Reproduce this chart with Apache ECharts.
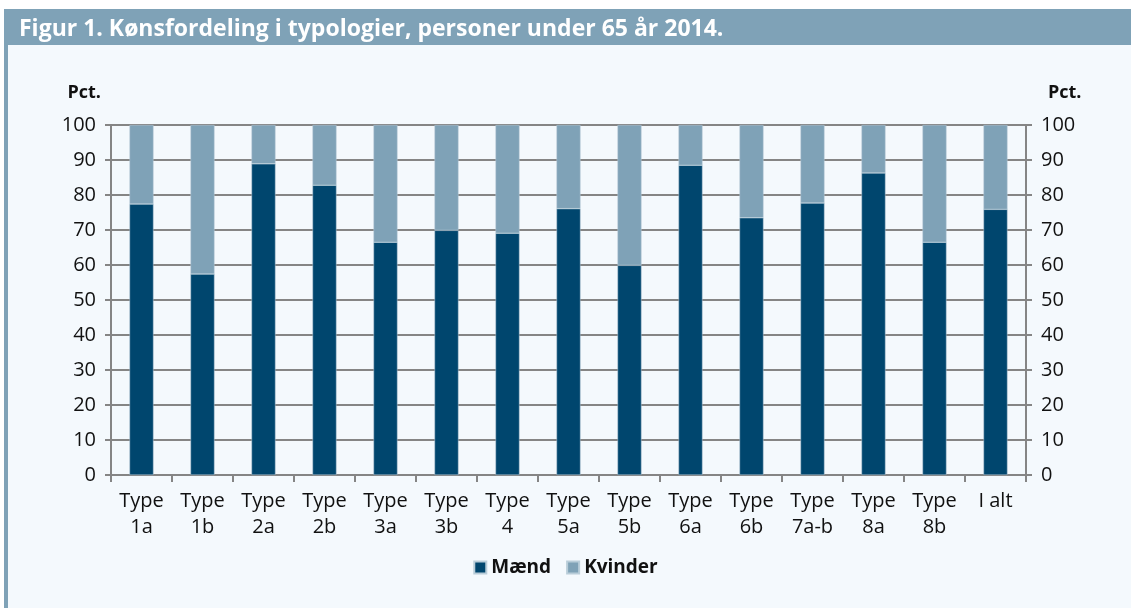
<!DOCTYPE html>
<html>
<head>
<meta charset="utf-8">
<script src="https://cdn.jsdelivr.net/npm/echarts@6/dist/echarts.min.js"></script>
<style>
  html, body { margin: 0; padding: 0; background: #fff; }
  #chart { width: 1131px; height: 608px; }
</style>
</head>
<body>
<div id="chart"></div>
<script>
// data
const categories = ['Type\n1a', 'Type\n1b', 'Type\n2a', 'Type\n2b', 'Type\n3a', 'Type\n3b', 'Type\n4', 'Type\n5a',
  'Type\n5b', 'Type\n6a', 'Type\n6b', 'Type\n7a-b', 'Type\n8a', 'Type\n8b', 'I alt']
const maend = [77.4, 57.4, 88.9, 82.8, 66.5, 69.9, 69.1, 76.1, 59.9, 88.5, 73.5, 77.7, 86.3, 66.5, 75.9]
const kvinder = [22.6, 42.6, 11.1, 17.2, 33.5, 30.1, 30.9, 23.9, 40.1, 11.5, 26.5, 22.3, 13.7, 33.5, 24.1]
const yTicks = [0, 10, 20, 30, 40, 50, 60, 70, 80, 90, 100]

const font = '"Open Sans", sans-serif'
const axisGray = '#858585'

const chart = echarts.init(document.getElementById('chart'))

function yAxis(pos) {
  return {
    type: 'value',
    position: pos,
    min: yTicks[0],
    max: yTicks[yTicks.length - 1],
    interval: 10,
    name: 'Pct.',
    nameLocation: 'end',
    nameGap: 23,
    nameTextStyle: {
      color: '#111',
      fontFamily: font,
      fontWeight: 'bold',
      fontSize: 18,
      align: pos === 'left' ? 'right' : 'left',
      padding: pos === 'left' ? [0, 10, 0, 0] : [0, 0, 0, 22]
    },
    axisLine: { show: true, lineStyle: { color: axisGray, width: 2 } },
    axisTick: { show: true, length: 6, lineStyle: { color: axisGray, width: 2 } },
    axisLabel: { color: '#111', fontFamily: font, fontSize: 20, margin: 15 },
    splitLine: { show: pos === 'left', lineStyle: { color: axisGray, width: 2 } }
  }
}

chart.setOption({
  backgroundColor: '#fff',
  animation: false,
  graphic: [
    { type: 'rect', z: -10, shape: { x: 4, y: 9, width: 1127, height: 36 }, style: { fill: '#7fa2b7' } },
    { type: 'rect', z: -10, shape: { x: 4, y: 45, width: 4, height: 563 }, style: { fill: '#7fa2b7' } },
    { type: 'rect', z: -10, shape: { x: 8, y: 45, width: 1123, height: 563 }, style: { fill: '#f4f9fd' } }
  ],
  title: {
    text: 'Figur 1. Kønsfordeling i typologier, personer under 65 år 2014.',
    left: 14,
    top: 13,
    textStyle: { color: '#fff', fontFamily: font, fontWeight: 'bold', fontSize: 23 }
  },
  legend: {
    top: 553,
    left: 'center',
    itemWidth: 12,
    itemHeight: 12,
    itemGap: 15,
    icon: 'rect',
    textStyle: { color: '#111', fontFamily: font, fontWeight: 'bold', fontSize: 19 },
    data: ['Mænd', 'Kvinder']
  },
  grid: { left: 111, right: 105, top: 125, bottom: 133 },
  xAxis: {
    type: 'category',
    data: categories,
    boundaryGap: true,
    axisLine: { lineStyle: { color: axisGray, width: 2 } },
    axisTick: { show: true, length: 7, interval: 0, lineStyle: { color: axisGray, width: 2 } },
    axisLabel: { color: '#111', fontFamily: font, fontSize: 20, lineHeight: 26, margin: 13, interval: 0 }
  },
  yAxis: [yAxis('left'), yAxis('right')],
  series: [
    {
      name: 'Mænd',
      type: 'bar',
      stack: 'total',
      barWidth: 24,
      data: maend,
      itemStyle: { color: '#00466e', borderColor: '#b9cdd9', borderWidth: 0.5 }
    },
    {
      name: 'Kvinder',
      type: 'bar',
      stack: 'total',
      data: kvinder,
      itemStyle: { color: '#7fa2b7', borderColor: '#b9cdd9', borderWidth: 0.5 }
    }
  ]
})
</script>
</body>
</html>
